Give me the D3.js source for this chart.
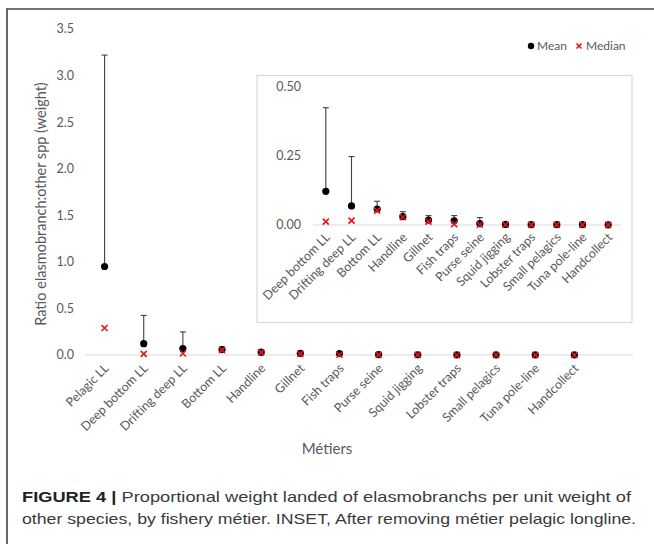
<!DOCTYPE html>
<html>
<head>
<meta charset="utf-8">
<script src="https://cdn.jsdelivr.net/npm/d3@7"></script>
<style>
  html, body { margin: 0; padding: 0; background: #fff; }
  svg { display: block; }
</style>
</head>
<body>
<svg id="chart" width="654" height="544"></svg>
<script>
// métiers, in the order of the chart
const categories = ["Pelagic LL", "Deep bottom LL", "Drifting deep LL", "Bottom LL", "Handline",
  "Gillnet", "Fish traps", "Purse seine", "Squid jigging", "Lobster traps",
  "Small pelagics", "Tuna pole-line", "Handcollect"];
const means   = [0.95, 0.122, 0.069, 0.058, 0.030, 0.018, 0.015, 0.005, 0.002, 0.001, 0.001, 0.001, 0.0005];
const uppers  = [3.22, 0.425, 0.248, 0.086, 0.048, 0.034, 0.034, 0.027, 0.004, 0.002, 0.002, 0.002, 0.001];
const medians = [0.29, 0.012, 0.016, 0.052, 0.028, 0.012, 0.003, 0.001, 0.001, 0.0005, 0.0005, 0.0005, 0.0003];
const mainTicks  = [0, 0.5, 1.0, 1.5, 2.0, 2.5, 3.0, 3.5];
const insetTicks = [0, 0.25, 0.5];

const rows = categories.map((c, i) => ({ cat: c, mean: means[i], up: uppers[i], med: medians[i] }));

const FONT = "Lato, 'Open Sans', sans-serif";
const GREY = "#595959";
const svg = d3.select("#chart");

// figure frame (left + top)
svg.append("path").attr("d", "M7,544 V9 H654").attr("fill", "none")
  .attr("stroke", "#444").attr("stroke-width", 1.6);

function panel(data, x, y, ticks, fmt, opt) {
  const g = svg.append("g");
  // baseline
  g.append("line").attr("x1", opt.lineX0).attr("x2", opt.lineX1)
    .attr("y1", y(0)).attr("y2", y(0)).attr("stroke", "#d9d9d9").attr("stroke-width", 1.2);
  // y tick labels
  g.selectAll(".yt").data(ticks).join("text")
    .attr("x", opt.tickX).attr("y", d => y(d)).attr("dy", "0.35em")
    .attr("text-anchor", "end").attr("font-family", FONT).attr("font-size", opt.fs)
    .attr("fill", GREY).text(fmt);
  // x labels rotated
  g.selectAll(".xt").data(data).join("text")
    .attr("transform", d => `translate(${x(d.cat) + x.bandwidth() / 2 + 5},${opt.labelY}) rotate(-45)`)
    .attr("text-anchor", "end").attr("font-family", FONT).attr("font-size", opt.fs)
    .attr("fill", GREY).text(d => d.cat);
  const cx = d => x(d.cat) + x.bandwidth() / 2;
  // error bars (upper only)
  const eb = g.selectAll(".eb").data(data).join("g");
  eb.append("line").attr("x1", cx).attr("x2", cx).attr("y1", d => y(d.mean)).attr("y2", d => y(d.up))
    .attr("stroke", "#404040").attr("stroke-width", 1.1);
  eb.append("line").attr("x1", d => cx(d) - 3).attr("x2", d => cx(d) + 3)
    .attr("y1", d => y(d.up)).attr("y2", d => y(d.up))
    .attr("stroke", "#404040").attr("stroke-width", 1.1);
  // mean dots
  g.selectAll(".mn").data(data).join("circle")
    .attr("cx", cx).attr("cy", d => y(d.mean)).attr("r", 3.6).attr("fill", "#000");
  // median crosses
  g.selectAll(".md").data(data).join("path")
    .attr("d", d => { const px = cx(d), py = y(d.med), s = 3;
      return `M${px - s},${py - s}L${px + s},${py + s}M${px - s},${py + s}L${px + s},${py - s}`; })
    .attr("stroke", "#e8141b").attr("stroke-width", 1.6).attr("fill", "none");
}

// main chart
const xMain = d3.scaleBand().domain(categories).range([85, 85 + 13 * 39.15]);
const yMain = d3.scaleLinear().domain([0, 3.5]).range([355, 29]);
panel(rows, xMain, yMain, mainTicks, d3.format(".1f"),
  { lineX0: 85, lineX1: 633, tickX: 74, fs: 12.5, labelY: 369 });

// inset
svg.append("rect").attr("x", 257).attr("y", 75.5).attr("width", 375).attr("height", 247)
  .attr("fill", "#fff").attr("stroke", "#d9d9d9").attr("stroke-width", 1.2);
const insetRows = rows.slice(1);
const xIn = d3.scaleBand().domain(insetRows.map(d => d.cat)).range([313, 621]);
const yIn = d3.scaleLinear().domain([0, 0.5]).range([225, 87]);
panel(insetRows, xIn, yIn, insetTicks, d3.format(".2f"),
  { lineX0: 313, lineX1: 621, tickX: 301, fs: 12.5, labelY: 238 });

// axis titles
svg.append("text").attr("transform", "translate(46,204) rotate(-90)")
  .attr("text-anchor", "middle").attr("font-family", FONT).attr("font-size", 14.5)
  .attr("fill", GREY).text("Ratio elasmobranch:other spp (weight)");
svg.append("text").attr("x", 327).attr("y", 449).attr("dy", "0.35em")
  .attr("text-anchor", "middle").attr("font-family", FONT).attr("font-size", 15)
  .attr("fill", GREY).text("Métiers");

// legend
const lg = svg.append("g").attr("font-family", FONT).attr("font-size", 12).attr("fill", GREY);
lg.append("circle").attr("cx", 531).attr("cy", 46).attr("r", 3.2).attr("fill", "#000");
lg.append("text").attr("x", 537).attr("y", 46).attr("dy", "0.35em").text("Mean");
lg.append("path").attr("d", "M576.5,43.5L581.5,48.5M576.5,48.5L581.5,43.5")
  .attr("stroke", "#e8141b").attr("stroke-width", 1.6);
lg.append("text").attr("x", 586).attr("y", 46).attr("dy", "0.35em").text("Median");

// caption
const cap = svg.append("g").attr("font-family", "'Liberation Sans', Arial, sans-serif")
  .attr("font-size", 15).attr("fill", "#3a3a3a");
const l1 = cap.append("text").attr("x", 22).attr("y", 502)
  .attr("textLength", 609).attr("lengthAdjust", "spacingAndGlyphs");
l1.append("tspan").attr("font-weight", "bold").attr("fill", "#222").text("FIGURE 4 | ");
l1.append("tspan").text("Proportional weight landed of elasmobranchs per unit weight of");
cap.append("text").attr("x", 22).attr("y", 524)
  .attr("textLength", 614).attr("lengthAdjust", "spacingAndGlyphs")
  .text("other species, by fishery métier. INSET, After removing métier pelagic longline.");
</script>
</body>
</html>
